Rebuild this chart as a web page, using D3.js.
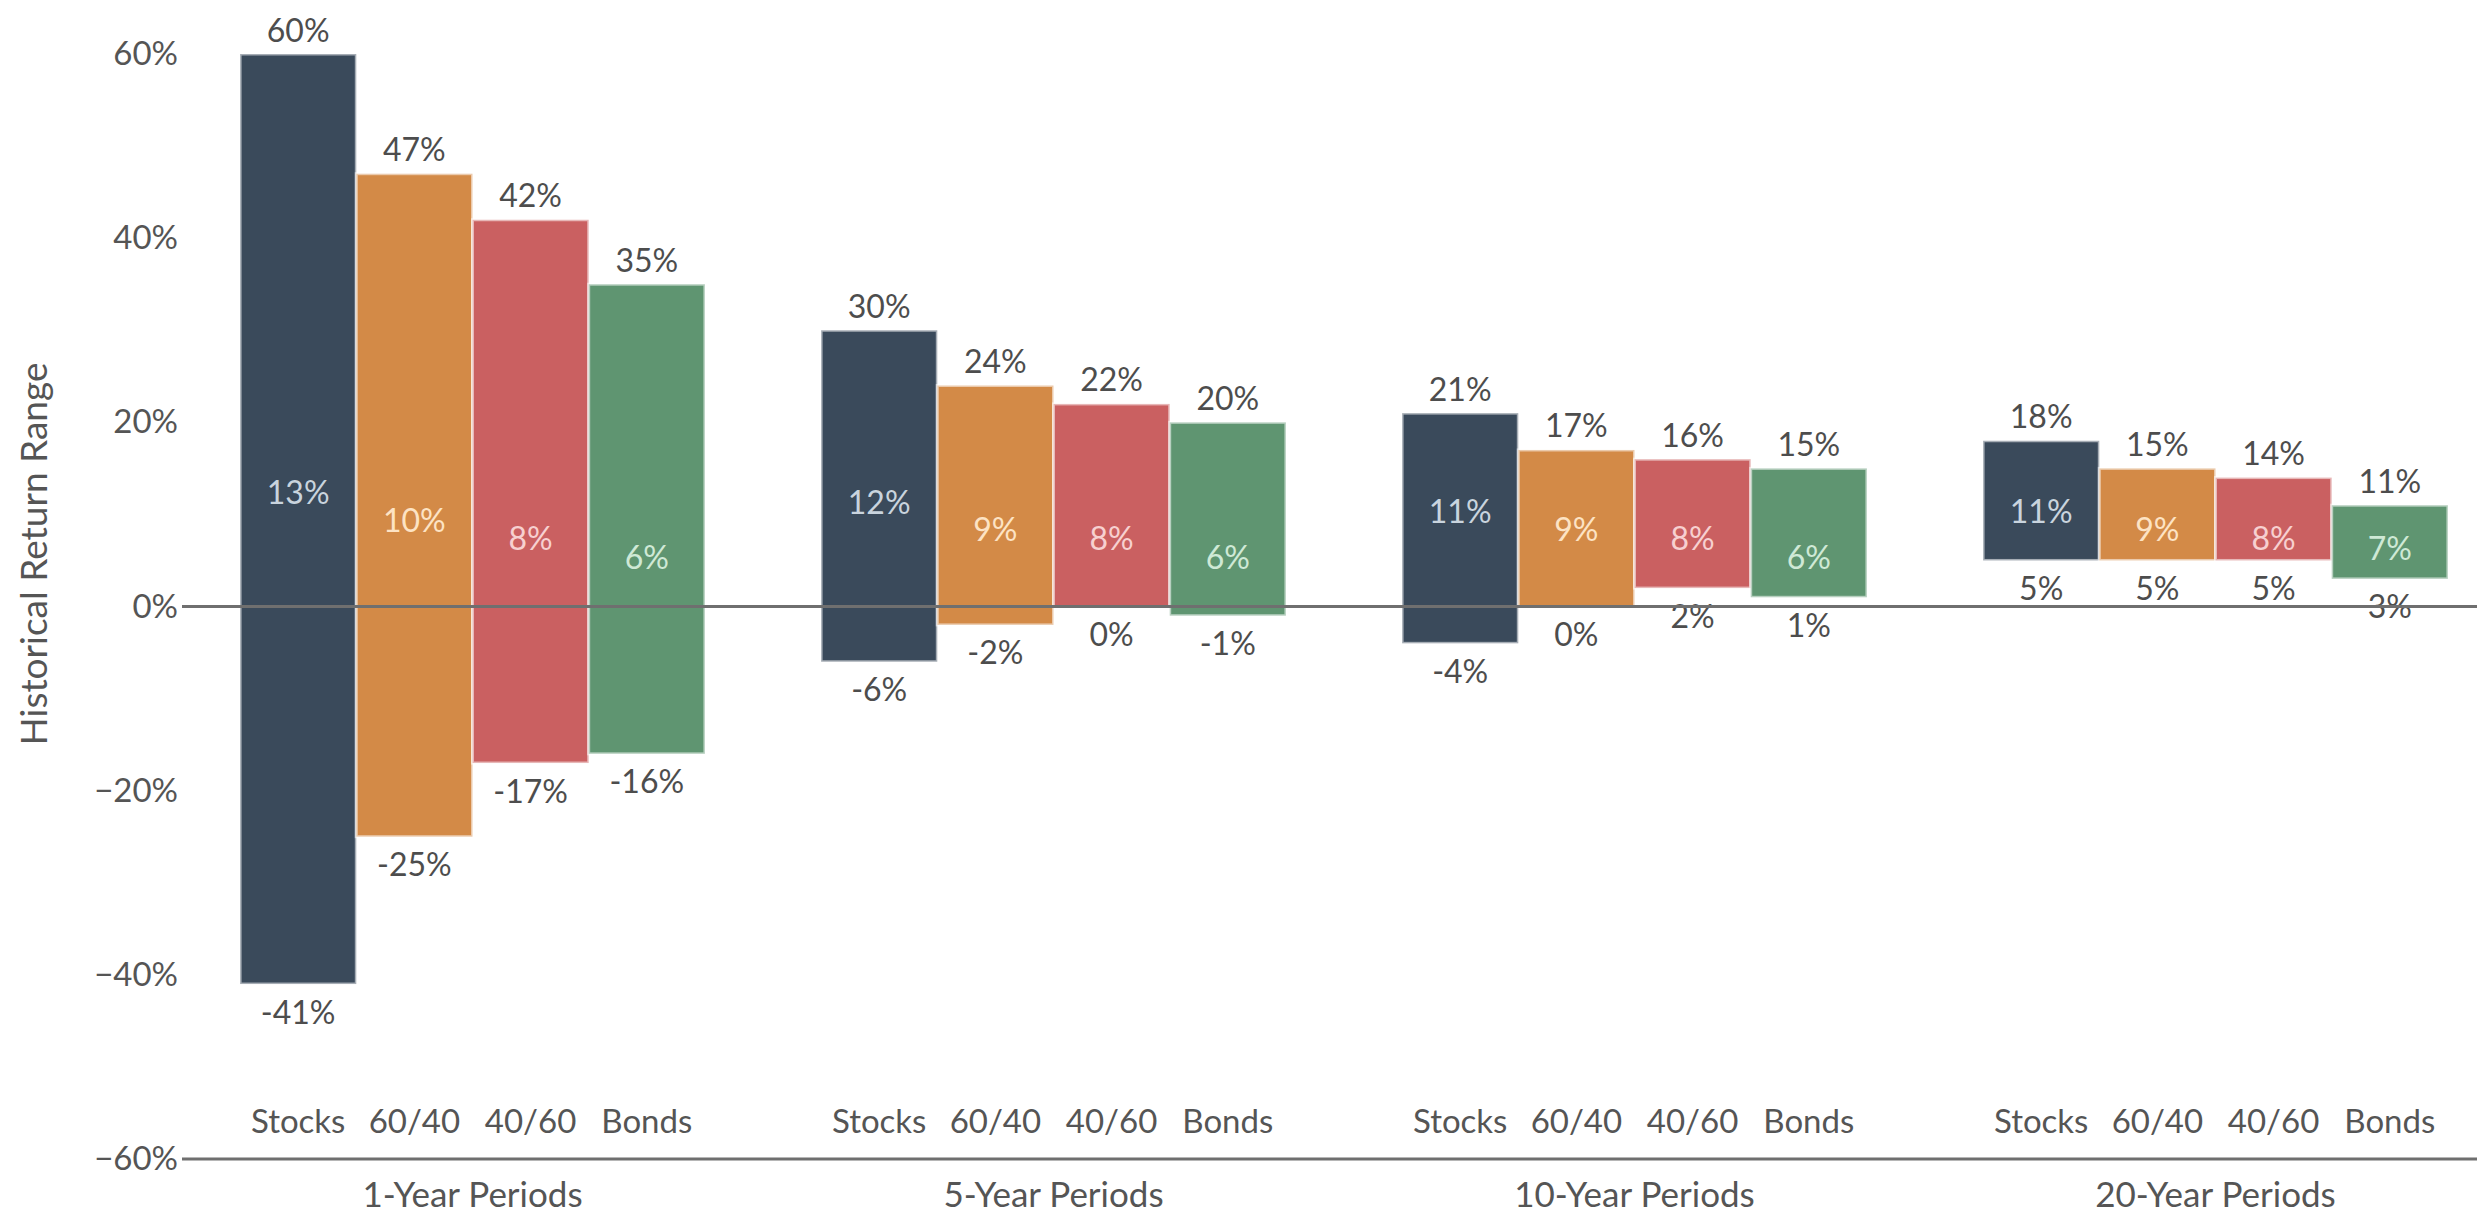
<!DOCTYPE html>
<html>
<head>
<meta charset="utf-8">
<script src="https://cdn.jsdelivr.net/npm/d3@7"></script>
<style>
  html, body { margin: 0; padding: 0; background: #ffffff; }
  svg { display: block; font-family: Lato, "Noto Sans", sans-serif; }
</style>
</head>
<body>
<svg id="chart" width="2477" height="1214"></svg>
<script>
// Holding periods and portfolio mixes
const periods = ["1-Year Periods", "5-Year Periods", "10-Year Periods", "20-Year Periods"];
const portfolios = ["Stocks", "60/40", "40/60", "Bonds"];

// Best, worst and average annualised return per period (rows) and portfolio (columns), in %
const highs = [
  [60, 47, 42, 35],
  [30, 24, 22, 20],
  [21, 17, 16, 15],
  [18, 15, 14, 11]
];
const lows = [
  [-41, -25, -17, -16],
  [-6, -2, 0, -1],
  [-4, 0, 2, 1],
  [5, 5, 5, 3]
];
const averages = [
  [13, 10, 8, 6],
  [12, 9, 8, 6],
  [11, 9, 8, 6],
  [11, 9, 8, 7]
];
const yTicks = [-60, -40, -20, 0, 20, 40, 60];

const fills = ["#3a4a5b", "#d38a47", "#ca6061", "#5f9571"];
const innerText = ["#c9d4de", "#fde3c4", "#f7d0d0", "#cfe9d6"];

const W = 2477, H = 1214;
const plotLeft = 182;
const svg = d3.select("#chart");

const rows = [];
periods.forEach((p, i) => portfolios.forEach((k, j) => rows.push({
  period: p, portfolio: k, j,
  high: highs[i][j], low: lows[i][j], avg: averages[i][j]
})));

const y = d3.scaleLinear().domain([-60, 60]).range([1159, 54]);

const x0 = d3.scaleBand().domain(periods)
  .range([plotLeft, plotLeft + 4 * 581])
  .paddingInner(0.2).paddingOuter(0.1);
const x1 = d3.scaleBand().domain(portfolios).range([0, x0.bandwidth()]).padding(0);

// Y axis (labels only)
const yAxis = d3.axisLeft(y).tickValues(yTicks)
  .tickFormat(d => d3.format("d")(d) + "%").tickSize(0).tickPadding(4);
const gy = svg.append("g").attr("transform", `translate(${plotLeft},0)`).call(yAxis);
gy.select(".domain").remove();
gy.selectAll("text").attr("font-size", 33).attr("fill", "#555").attr("font-family", "Lato, sans-serif");

svg.append("text")
  .attr("transform", "translate(32,554) rotate(-90)")
  .attr("text-anchor", "middle").attr("dominant-baseline", "central")
  .attr("font-size", 37).attr("fill", "#555")
  .text("Historical Return Range");

const groups = svg.append("g").selectAll("g")
  .data(periods).join("g")
  .attr("transform", d => `translate(${x0(d)},0)`);

const cells = groups.selectAll("g.cell")
  .data(p => rows.filter(r => r.period === p))
  .join("g").attr("class", "cell")
  .attr("transform", d => `translate(${x1(d.portfolio)},0)`);

cells.append("rect")
  .attr("x", 0)
  .attr("width", x1.bandwidth())
  .attr("y", d => y(d.high))
  .attr("height", d => y(d.low) - y(d.high))
  .attr("fill", d => fills[d.j])
  .attr("stroke", "#ffffff").attr("stroke-opacity", 0.55).attr("stroke-width", 3);

const cx = x1.bandwidth() / 2;

cells.append("text")
  .attr("x", cx).attr("y", d => y(d.high) - 25)
  .attr("text-anchor", "middle").attr("dominant-baseline", "central")
  .attr("font-size", 32).attr("fill", "#4d4d4d")
  .text(d => d.high + "%");

cells.append("text")
  .attr("x", cx).attr("y", d => y(d.low) + 27)
  .attr("text-anchor", "middle").attr("dominant-baseline", "central")
  .attr("font-size", 32).attr("fill", "#4d4d4d")
  .text(d => d.low + "%");

cells.append("text")
  .attr("x", cx).attr("y", d => y(d.avg) + 5)
  .attr("text-anchor", "middle").attr("dominant-baseline", "central")
  .attr("font-size", 32).attr("fill", d => innerText[d.j])
  .text(d => d.avg + "%");

// Portfolio names above the bottom axis
cells.append("text")
  .attr("x", cx).attr("y", 1120)
  .attr("text-anchor", "middle").attr("dominant-baseline", "central")
  .attr("font-size", 33).attr("fill", "#555")
  .text(d => d.portfolio);

// Period names below the bottom axis
groups.append("text")
  .attr("x", x0.bandwidth() / 2).attr("y", 1193)
  .attr("text-anchor", "middle").attr("dominant-baseline", "central")
  .attr("font-size", 35).attr("fill", "#555")
  .text(d => d);

// Zero line and bottom axis line
svg.append("line")
  .attr("x1", plotLeft).attr("x2", W)
  .attr("y1", y(0)).attr("y2", y(0))
  .attr("stroke", "#6f6f6f").attr("stroke-width", 3);
svg.append("line")
  .attr("x1", plotLeft).attr("x2", W)
  .attr("y1", y(-60)).attr("y2", y(-60))
  .attr("stroke", "#6f6f6f").attr("stroke-width", 3);
</script>
</body>
</html>
